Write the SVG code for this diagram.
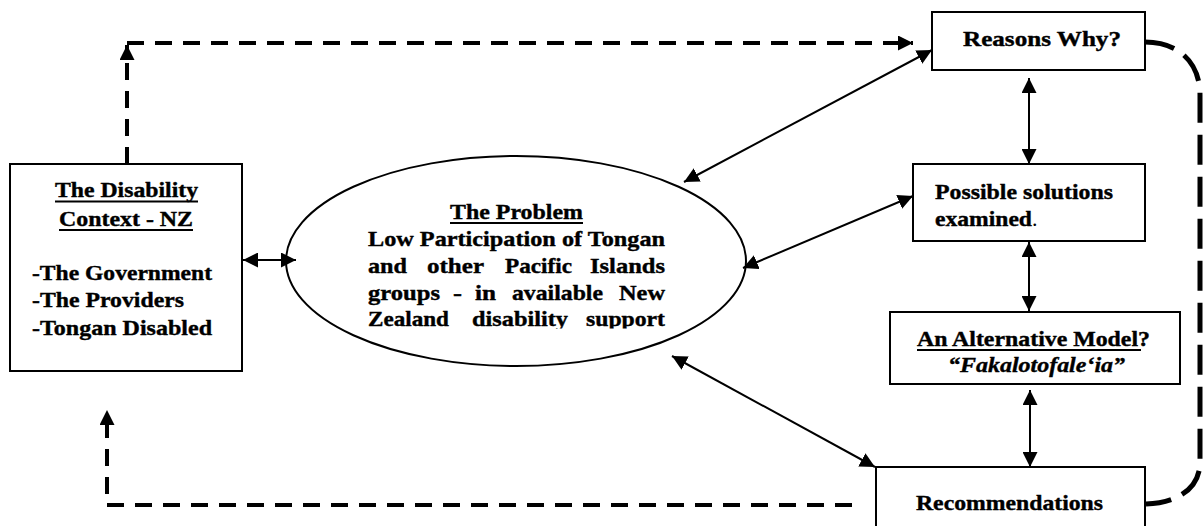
<svg xmlns="http://www.w3.org/2000/svg" width="1203" height="526" viewBox="0 0 1203 526">
  <style>
    .box { fill: #fff; stroke: #000; stroke-width: 2; }
    .t { font-family: "Liberation Serif", "Times New Roman", serif; font-weight: bold; font-size: 22px; fill: #000; stroke: #000; stroke-width: 0.4; }
    .it { font-style: italic; }
    .nb { font-weight: normal; stroke-width: 0; }
    .ul { stroke: #000; stroke-width: 1.8; }
    .link { fill: none; stroke: #000; stroke-width: 2; marker-start: url(#head); marker-end: url(#head); }
    .dash { fill: none; stroke: #000; stroke-width: 4; stroke-dasharray: 17 11; marker-end: url(#head); }
    .loop { fill: none; stroke: #000; stroke-width: 5; stroke-dasharray: 30 12; }
  </style>
  <defs>
    <marker id="head" viewBox="0 0 15 15" markerWidth="15" markerHeight="15" refX="15" refY="7.5" orient="auto-start-reverse" markerUnits="userSpaceOnUse">
      <path d="M0,0 L15,7.5 L0,15 z" fill="#000"/>
    </marker>
    <clipPath id="problemClip">
      <rect x="280" y="150" width="480" height="178.5"/>
    </clipPath>
  </defs>

  <rect width="1203" height="526" fill="#fff"/>

  <!-- Left: the disability context -->
  <g id="context">
    <rect class="box" x="10" y="164" width="232" height="207"/>
    <text class="t" x="55" y="197" textLength="143" lengthAdjust="spacingAndGlyphs">The Disability</text>
    <line class="ul" x1="55" y1="201.5" x2="198" y2="201.5"/>
    <text class="t" x="59" y="225.5" textLength="134" lengthAdjust="spacingAndGlyphs">Context - NZ</text>
    <line class="ul" x1="59" y1="230" x2="193" y2="230"/>
    <text class="t" x="32" y="280" textLength="180" lengthAdjust="spacingAndGlyphs">-The Government</text>
    <text class="t" x="32" y="307" textLength="152" lengthAdjust="spacingAndGlyphs">-The Providers</text>
    <text class="t" x="32" y="335" textLength="180" lengthAdjust="spacingAndGlyphs">-Tongan Disabled</text>
  </g>

  <!-- Centre: the problem -->
  <g id="problem">
    <ellipse class="box" cx="516" cy="261" rx="230" ry="105"/>
    <g clip-path="url(#problemClip)">
      <text class="t" x="450" y="219" textLength="133" lengthAdjust="spacingAndGlyphs">The Problem</text>
      <line class="ul" x1="450" y1="223" x2="583" y2="223"/>
      <text class="t" x="368" y="246" textLength="297" lengthAdjust="spacingAndGlyphs">Low Participation of Tongan</text>
      <text class="t" x="368" y="273" textLength="39" lengthAdjust="spacingAndGlyphs">and</text>
      <text class="t" x="427" y="273" textLength="57" lengthAdjust="spacingAndGlyphs">other</text>
      <text class="t" x="505" y="273" textLength="67" lengthAdjust="spacingAndGlyphs">Pacific</text>
      <text class="t" x="590" y="273" textLength="75" lengthAdjust="spacingAndGlyphs">Islands</text>
      <text class="t" x="368" y="299.5" textLength="72" lengthAdjust="spacingAndGlyphs">groups</text>
      <text class="t" x="453" y="299.5" textLength="9" lengthAdjust="spacingAndGlyphs">-</text>
      <text class="t" x="475" y="299.5" textLength="21" lengthAdjust="spacingAndGlyphs">in</text>
      <text class="t" x="512" y="299.5" textLength="91" lengthAdjust="spacingAndGlyphs">available</text>
      <text class="t" x="619" y="299.5" textLength="46" lengthAdjust="spacingAndGlyphs">New</text>
      <text class="t" x="368" y="325.5" textLength="81" lengthAdjust="spacingAndGlyphs">Zealand</text>
      <text class="t" x="472" y="325.5" textLength="96" lengthAdjust="spacingAndGlyphs">disability</text>
      <text class="t" x="586" y="325.5" textLength="79" lengthAdjust="spacingAndGlyphs">support</text>
    </g>
  </g>

  <!-- Right column -->
  <g id="reasons">
    <rect class="box" x="932" y="12" width="213" height="58"/>
    <text class="t" x="963" y="45.5" textLength="158" lengthAdjust="spacingAndGlyphs">Reasons Why?</text>
  </g>

  <g id="solutions">
    <rect class="box" x="913" y="164" width="232" height="77"/>
    <text class="t" x="935" y="198.5" textLength="178" lengthAdjust="spacingAndGlyphs">Possible solutions</text>
    <text class="t" x="935" y="225.5" textLength="97" lengthAdjust="spacingAndGlyphs">examined</text>
    <text class="t nb" x="1032" y="225.5">.</text>
  </g>

  <g id="model">
    <rect class="box" x="890" y="312" width="290" height="72"/>
    <text class="t" x="917" y="345.5" textLength="233" lengthAdjust="spacingAndGlyphs">An Alternative Model?</text>
    <line class="ul" x1="917" y1="350" x2="1141" y2="350"/>
    <text class="t it" x="948" y="371.5" textLength="177" lengthAdjust="spacingAndGlyphs">“Fakalotofale‘ia”</text>
  </g>

  <g id="recommendations">
    <rect class="box" x="876" y="467" width="269" height="80"/>
    <text class="t" x="916" y="510" textLength="187" lengthAdjust="spacingAndGlyphs">Recommendations</text>
  </g>

  <!-- Connectors -->
  <g id="connectors">
    <path class="link" d="M243,260 L296,260"/>
    <path class="link" d="M684,182 L932,50"/>
    <path class="link" d="M743,268 L913,196"/>
    <path class="link" d="M1029,78 L1029,164"/>
    <path class="link" d="M1029,242 L1029,311"/>
    <path class="link" d="M1030,390 L1030,467"/>
    <path class="link" d="M672,356 L875,467"/>

    <path class="dash" d="M127,164 L127,45"/>
    <path class="dash" d="M127,43 L913,43"/>
    <path class="dash" d="M852,505 L107,505 L107,410"/>

    <path class="loop" d="M1145,42 C1178,42 1200,62 1200,95 L1200,462 C1200,488 1178,503 1146,504"/>
  </g>
</svg>
